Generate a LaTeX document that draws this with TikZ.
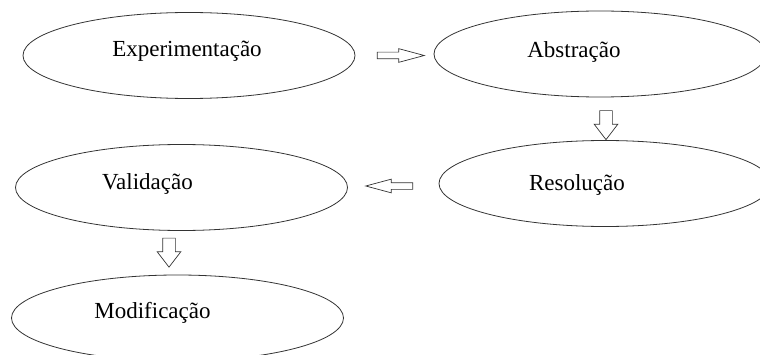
\documentclass[tikz,border=0pt]{standalone}
\usepackage{fontspec}
\setmainfont{Liberation Serif}
\usepackage{tikz}
\usetikzlibrary{shapes.geometric,shapes.arrows}
\definecolor{edge}{gray}{0.2}

\begin{document}
\begin{tikzpicture}[
        x=1pt, y=1pt,
        oval/.style={ellipse, draw=edge, line width=0.8pt, minimum width=332pt, minimum height=86pt, inner sep=0pt},
        txt/.style={font=\fontsize{23}{27}\selectfont, inner sep=0pt},
        harrow/.style={single arrow, draw=edge, line width=0.7pt, inner sep=3pt, minimum height=47pt, single arrow head extend=3.5pt, single arrow tip angle=30},
        varrow/.style={single arrow, draw=edge, line width=0.7pt, inner sep=6pt, minimum height=29pt, single arrow head extend=5.5pt, single arrow tip angle=75, shape border rotate=270}
    ]
    \useasboundingbox (0,0) rectangle (760,354);
    \node[oval, label={[txt, name=expt, xshift=-2pt, yshift=4pt]center:Experimentação}] (exp) at (189,298.5) {};
    \node[oval, label={[txt, name=abst, xshift=-26pt, yshift=2pt]center:Abstração}] (abs) at (600,300) {};
    \node[oval, label={[txt, name=rest, xshift=-28pt, yshift=-1pt]center:Resolução}] (res) at (605,170.5) {};
    \node[oval, label={[txt, name=valt, xshift=-34pt, yshift=4pt]center:Validação}] (val) at (181.5,166.5) {};
    \node[oval, label={[txt, name=modt, xshift=-25pt, yshift=5pt]center:Modificação}] (mod) at (177.5,36) {};
    % setas entre as etapas
    \node[harrow] (a1) at (394.5,298.5) {};
    \node[varrow] (a2) at (606,233) {};
    \node[harrow, shape border rotate=180] (a3) at (395.5,168) {};
    \node[varrow] (a4) at (169,105.5) {};
\end{tikzpicture}
\end{document}
